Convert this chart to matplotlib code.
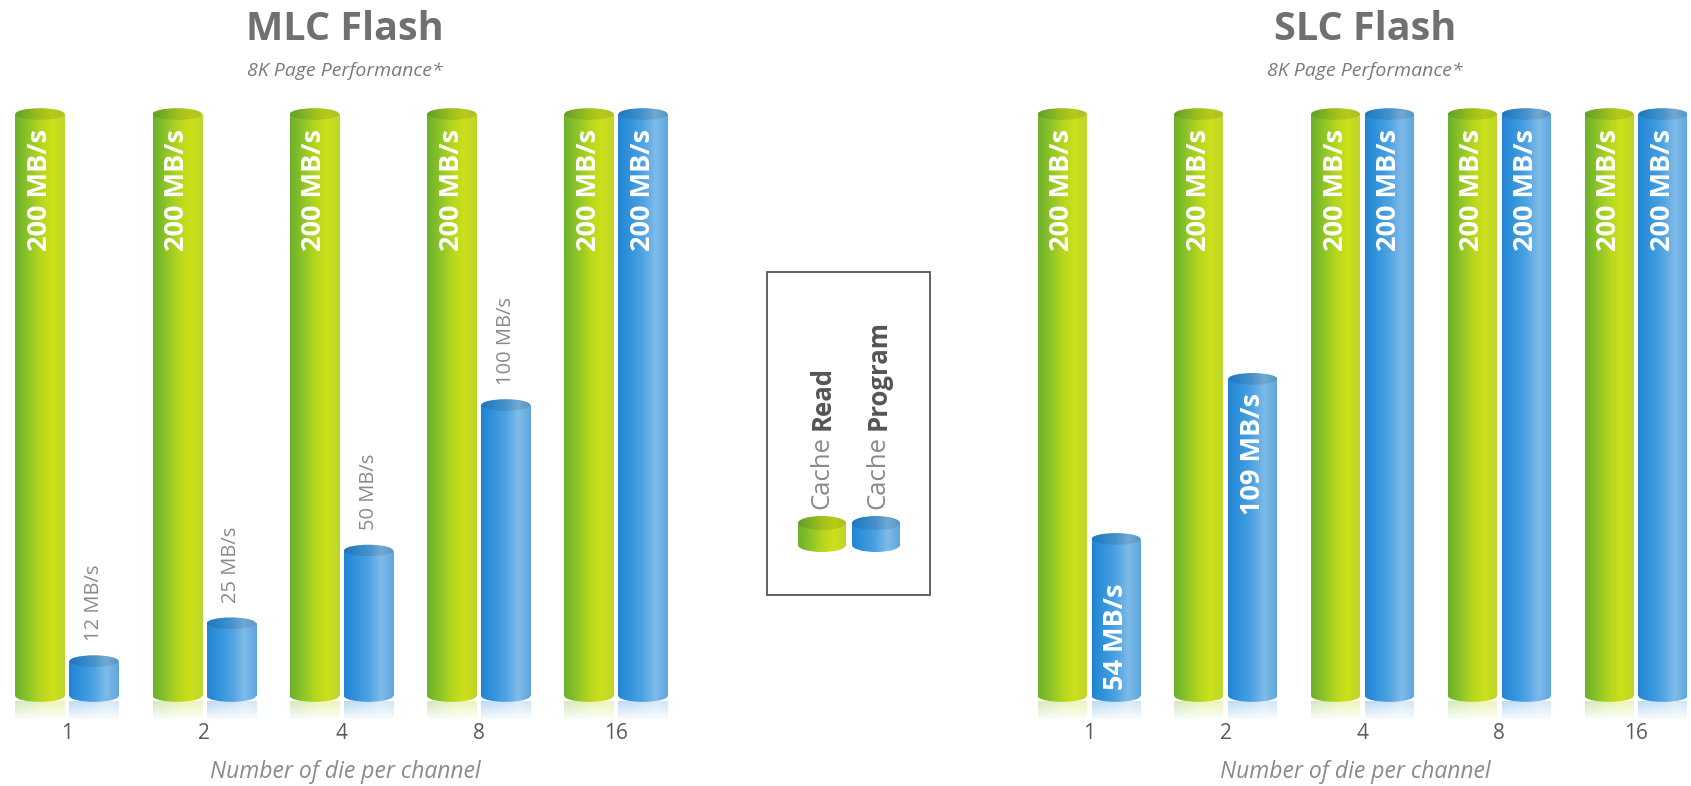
import numpy as np
import matplotlib
matplotlib.use("Agg")
import matplotlib.pyplot as plt
from matplotlib.colors import LinearSegmentedColormap, to_rgb
from matplotlib.patches import Ellipse, Rectangle

plt.rcParams['font.family'] = ['Open Sans', 'DejaVu Sans']

# data
dies = ["1", "2", "4", "8", "16"]
mlc_read = [200, 200, 200, 200, 200]
mlc_program = [12, 25, 50, 100, 200]
slc_read = [200, 200, 200, 200, 200]
slc_program = [54, 109, 200, 200, 200]
unit = "MB/s"

# where the program labels go (style, not data)
mlc_prog_pos = ["above", "above", "above", "above", "top"]
slc_prog_pos = ["bottom", "top", "top", "top", "top"]

green_stops = ["#6cb02c", "#8cc428", "#b4d61e", "#cde01a", "#bcd52a"]
blue_stops = ["#2384d4", "#3494dc", "#4fa3e2", "#7fbbe9", "#5ea6de"]

CAP = 4.0


def darker(stops, f):
    return [tuple(c * f for c in to_rgb(s)) for s in stops]


def cyl(ax, rect, stops, cap_h, reflect=True):
    x, y0, w, h = rect.get_x(), rect.get_y(), rect.get_width(), rect.get_height()
    cmap = LinearSegmentedColormap.from_list("c", stops)
    grad = np.linspace(0, 1, 128)[None, :]
    im = ax.imshow(grad, cmap=cmap, extent=[x, x + w, y0, y0 + h],
                   aspect="auto", zorder=2, interpolation="bilinear")
    im.set_clip_path(rect)
    # rounded bottom
    eb = Ellipse((x + w / 2, y0), w, cap_h, transform=ax.transData)
    im = ax.imshow(grad, cmap=cmap, extent=[x, x + w, y0 - cap_h / 2, y0],
                   aspect="auto", zorder=2, interpolation="bilinear")
    im.set_clip_path(eb)
    # top cap
    cmap2 = LinearSegmentedColormap.from_list("d", darker(stops, 0.9))
    et = Ellipse((x + w / 2, y0 + h), w, cap_h, transform=ax.transData)
    im = ax.imshow(grad, cmap=cmap2, extent=[x, x + w, y0 + h - cap_h / 2, y0 + h + cap_h / 2],
                   aspect="auto", zorder=3, interpolation="bilinear")
    im.set_clip_path(et)
    if reflect:
        rgba = np.repeat(cmap(grad), 24, axis=0)
        rgba[:, :, 3] = np.linspace(0.3, 0, 24)[:, None]
        ax.imshow(rgba, extent=[x, x + w, y0 - 9, y0 - cap_h / 2],
                  aspect="auto", zorder=1, interpolation="bilinear")


fig = plt.figure(figsize=(16.91, 7.86), dpi=100)
W, H = 1691, 786

y_bot = (H - 719.3) / H
y_h = (719.3 - 26.7) / H
ax1 = fig.add_axes([0, y_bot, 690 / W, y_h])
ax2 = fig.add_axes([1020 / W, y_bot, 671 / W, y_h])


def panel(ax, read, prog, prog_pos, xlim, title, tx):
    x = np.arange(len(dies))
    bw = 0.358
    off = 0.197
    gbars = ax.bar(x - off, read, bw, color=green_stops[2], lw=0, zorder=2)
    bbars = ax.bar(x + off, prog, bw, color=blue_stops[2], lw=0, zorder=2)
    for r in gbars:
        cyl(ax, r, green_stops, CAP)
    for r in bbars:
        cyl(ax, r, blue_stops, CAP)
    for r, v in zip(gbars, read):
        ax.text(r.get_x() + r.get_width() / 2, v - 5, f"{v} {unit}", rotation=90,
                ha="center", va="top", color="white", fontsize=19.5, weight="bold", zorder=5)
    for r, v, p in zip(bbars, prog, prog_pos):
        cx = r.get_x() + r.get_width() / 2
        if p == "above":
            ax.text(cx, v + CAP / 2 + 5, f"{v} {unit}", rotation=90, ha="center",
                    va="bottom", color="#8a8a8a", fontsize=14.5, zorder=5)
        elif p == "bottom":
            ax.text(cx, 2, f"{v} {unit}", rotation=90, ha="center", va="bottom",
                    color="white", fontsize=19.5, weight="bold", zorder=5)
        else:
            ax.text(cx, v - 5, f"{v} {unit}", rotation=90, ha="center", va="top",
                    color="white", fontsize=19.5, weight="bold", zorder=5)
    ax.set_xlim(*xlim)
    ax.set_ylim(-8, 230)
    ax.set_xticks(x, dies)
    ax.tick_params(axis="x", length=0, pad=3, labelsize=15, labelcolor="#5a5a5a")
    ax.set_yticks([])
    for s in ax.spines.values():
        s.set_visible(False)
    ax.patch.set_alpha(0)
    ax.set_xlabel("Number of die per channel", fontsize=16.5, style="italic",
                  color="#8a8a8a", labelpad=11)
    fig.text(tx / W, 1 - 29 / H, title, ha="center", va="center", fontsize=28.5,
             weight="bold", color="#707070")
    fig.text(tx / W, 1 - 71 / H, "8K Page Performance*", ha="center", va="center",
             fontsize=14, style="italic", color="#7a7a7a")


panel(ax1, mlc_read, mlc_program, mlc_prog_pos, (-0.488, 4.539), "MLC Flash", 345)
panel(ax2, slc_read, slc_program, slc_prog_pos, (-0.505, 4.402), "SLC Flash", 1365)

# legend box
lax = fig.add_axes([767 / W, (H - 595) / H, 163 / W, 323 / H])
lax.set_xlim(0, 163)
lax.set_ylim(0, 323)
lax.axis("off")
lax.add_patch(Rectangle((0, 0), 1, 1, transform=lax.transAxes, fill=False,
                        edgecolor="#555555", lw=1.3, clip_on=False))
sw = lax.bar([55, 109], [22, 22], 48, bottom=50, color="none", lw=0)
cyl(lax, sw[0], green_stops, 14, reflect=False)
cyl(lax, sw[1], blue_stops, 14, reflect=False)
for cx, name in [(55, "Read"), (111, "Program")]:
    t = lax.text(cx, 86, "Cache", rotation=90, ha="center", va="bottom",
                 color="#8a8a8a", fontsize=18.5)
    lax.annotate(name, xy=(0.5, 1), xycoords=t, xytext=(0, 4), textcoords="offset points",
                 rotation=90, ha="center", va="bottom", color="#555555",
                 fontsize=18.5, weight="bold")

fig.savefig("out.png", dpi=100, facecolor="white")
